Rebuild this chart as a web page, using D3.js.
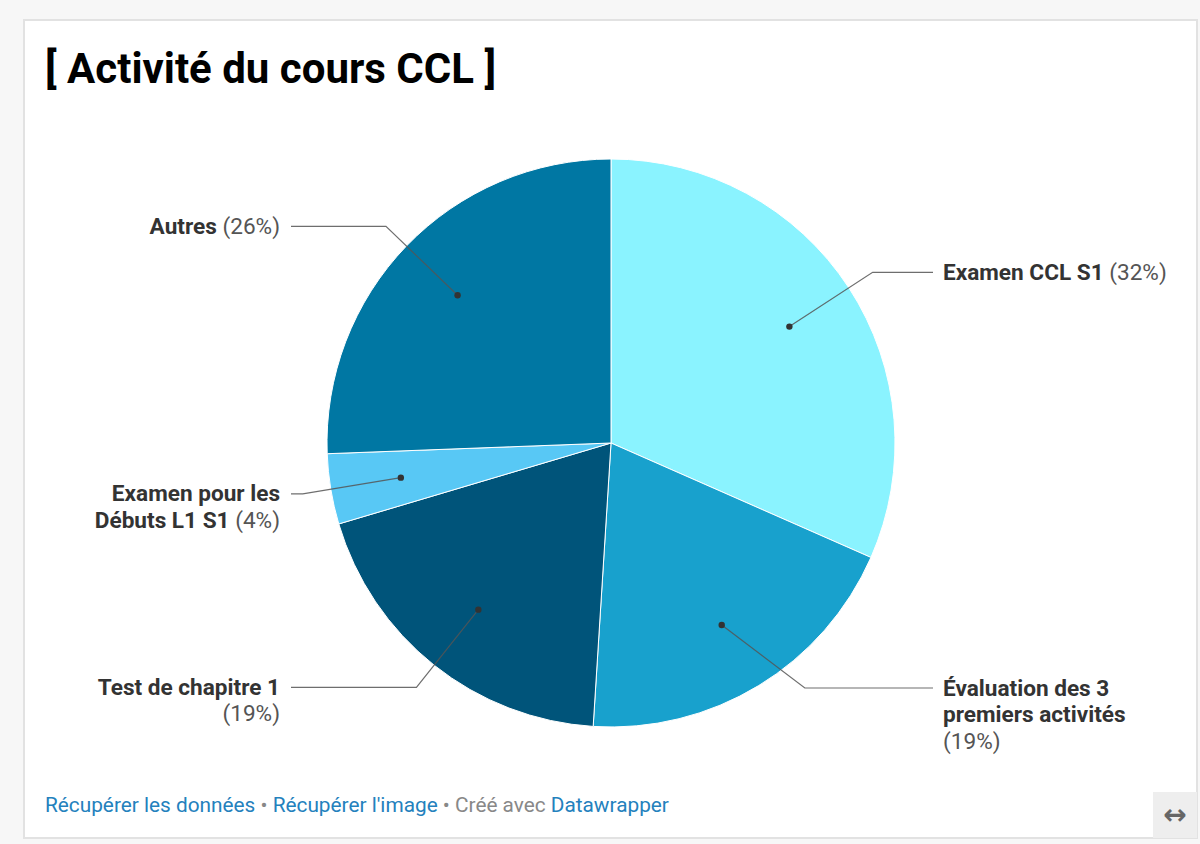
<!DOCTYPE html>
<html>
<head>
<meta charset="utf-8">
<script src="https://cdn.jsdelivr.net/npm/d3@7"></script>
<style>
  html, body { margin: 0; padding: 0; background: #f7f7f7; }
  #chart { width: 1200px; height: 844px; }
</style>
</head>
<body>
<div id="chart"></div>
<script>
(function () {
  // slices, clockwise from 12 o'clock
  const categories = [
    "Examen CCL S1",
    "Évaluation des 3 premiers activités",
    "Test de chapitre 1",
    "Examen pour les Débuts L1 S1",
    "Autres"
  ];
  const shares = [31.6, 19.4, 19.4, 4.0, 25.6];
  const sliceColors = ["#8af3ff", "#18a1cd", "#00547a", "#58c8f5", "#0077a3"];
  // how each label is broken into lines
  const labelLines = [
    [["Examen CCL S1", "(32%)"]],
    [["Évaluation des 3"], ["premiers activités"], [null, "(19%)"]],
    [["Test de chapitre 1"], [null, "(19%)"]],
    [["Examen pour les"], ["Débuts L1 S1", "(4%)"]],
    [["Autres", "(26%)"]]
  ];

  const W = 1200, H = 844;
  const FONT = "Roboto, 'Noto Sans', sans-serif";
  const DARK = "#333333";
  const GREY = "#555555";
  const LINK = "#2481bd";

  const svg = d3.select("#chart").append("svg")
    .attr("width", W).attr("height", H)
    .style("font-family", FONT);

  // card
  svg.append("rect")
    .attr("x", 24).attr("y", 20).attr("width", 1173).attr("height", 818)
    .attr("fill", "#fff").attr("stroke", "#e2e2e2").attr("stroke-width", 2);

  svg.append("text")
    .attr("x", 45).attr("y", 83)
    .attr("font-size", 42).attr("font-weight", 700).attr("fill", "#000")
    .text("[ Activité du cours CCL ]");

  const cx = 611, cy = 443, R = 284;
  const g = svg.append("g").attr("transform", `translate(${cx},${cy})`);

  const data = categories.map((c, i) => ({ name: c, value: shares[i], color: sliceColors[i], lines: labelLines[i] }));

  const pie = d3.pie().value(d => d.value).sort(null);
  const arcs = pie(data);
  const arc = d3.arc().innerRadius(0).outerRadius(R);

  g.selectAll("path.slice")
    .data(arcs)
    .join("path")
    .attr("class", "slice")
    .attr("d", arc)
    .attr("fill", d => d.data.color)
    .attr("stroke", "#fff")
    .attr("stroke-width", 1);

  const dotArc = d3.arc().innerRadius(R * 0.75).outerRadius(R * 0.75);
  const ER = R * 1.1;
  const elbowArc = d3.arc().innerRadius(ER).outerRadius(ER);
  const LINE_END = 322; // horizontal distance from centre where leader ends
  const LINE_H = 26.5;
  const FS = 22.6;
  const MAX_BOTTOM = 298; // last label line may not sit lower than this (relative to centre)

  arcs.forEach(a => {
    const mid = (a.startAngle + a.endAngle) / 2;
    const right = mid < Math.PI;
    const p0 = dotArc.centroid(a);
    let ly = elbowArc.centroid(a)[1];
    const nLines = a.data.lines.length;
    ly = Math.min(ly, MAX_BOTTOM - (nLines - 1) * LINE_H);
    const ex = Math.sqrt(Math.max(0, ER * ER - ly * ly)) * (right ? 1 : -1);
    const p1 = [ex, ly];
    const p2 = [right ? LINE_END : -(LINE_END - 2), ly];

    g.append("polyline")
      .attr("points", [p0, p1, p2].map(p => p.join(",")).join(" "))
      .attr("fill", "none")
      .attr("stroke", "#555")
      .attr("stroke-width", 1.2)
      .attr("opacity", 0.85);

    g.append("circle")
      .attr("cx", p0[0]).attr("cy", p0[1]).attr("r", 3.2)
      .attr("fill", "#333");

    const tx = right ? p2[0] + 10 : p2[0] - 11;
    a.data.lines.forEach((ln, i) => {
      const t = g.append("text")
        .attr("x", tx)
        .attr("y", ly + 7.5 + i * LINE_H)
        .attr("text-anchor", right ? "start" : "end")
        .attr("font-size", FS);
      if (ln[0]) t.append("tspan").attr("font-weight", 700).attr("fill", DARK).text(ln[0]);
      if (ln[1]) t.append("tspan").attr("fill", GREY).text((ln[0] ? " " : "") + ln[1]);
    });
  });

  // footer
  const foot = svg.append("text")
    .attr("x", 45).attr("y", 812)
    .attr("font-size", 20.8);
  foot.append("tspan").attr("fill", LINK).text("Récupérer les données");
  foot.append("tspan").attr("fill", "#888").text(" • ");
  foot.append("tspan").attr("fill", LINK).text("Récupérer l'image");
  foot.append("tspan").attr("fill", "#888").text(" • Créé avec ");
  foot.append("tspan").attr("fill", LINK).text("Datawrapper");

  // resize handle
  svg.append("rect")
    .attr("x", 1153).attr("y", 792).attr("width", 44).attr("height", 46)
    .attr("fill", "#eeeeee");
  svg.append("text")
    .attr("x", 1175).attr("y", 824)
    .attr("text-anchor", "middle")
    .attr("font-size", 28).attr("font-weight", 700).attr("fill", "#666")
    .attr("font-family", "DejaVu Sans, sans-serif")
    .text("↔");
})();
</script>
</body>
</html>
